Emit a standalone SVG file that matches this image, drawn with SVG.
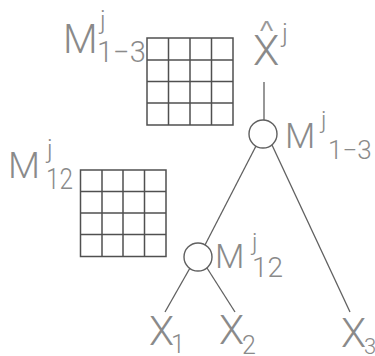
<svg xmlns="http://www.w3.org/2000/svg" width="375" height="356" viewBox="0 0 375 356">
<style>
.t{font-family:Roboto,"Liberation Sans",sans-serif;font-weight:300;fill:#8a8a8a}
.h{font-family:"Liberation Sans",sans-serif;fill:#9a9a9a}
.g{fill:none;stroke:#505050;stroke-width:1.5}
.c{fill:none;stroke:#606060;stroke-width:1.4}
.e{fill:none;stroke:#606060;stroke-width:1.3}
</style>
<rect width="375" height="356" fill="#ffffff"/>
<g id="matrix13">
<path class="g" d="M147,38H233V125H147Z M168.5,38V125 M190,38V125 M211.5,38V125 M147,60H233 M147,81.5H233 M147,103H233"/>
<text class="t" x="63" y="53" font-size="40">M</text>
<text class="t" x="100" y="29" font-size="25">j</text>
<text class="t" x="97" y="62" font-size="29">1−3</text>
</g>
<g id="matrix12">
<path class="g" d="M80.5,170H166V256.5H80.5Z M102,170V256.5 M123,170V256.5 M144.5,170V256.5 M80.5,191.5H166 M80.5,213H166 M80.5,234.5H166"/>
<text class="t" x="8" y="178" font-size="37">M</text>
<text class="t" x="47" y="158" font-size="25">j</text>
<text class="t" x="46" y="189" font-size="29" textLength="27" lengthAdjust="spacingAndGlyphs">12</text>
</g>
<g id="xhat">
<text class="t" x="253" y="65" font-size="43">X</text>
<text class="h" x="260" y="40" font-size="28">^</text>
<text class="t" x="282" y="42" font-size="26">j</text>
</g>
<g id="node13">
<circle class="c" cx="263" cy="134" r="14"/>
<text class="t" x="285" y="148" font-size="35">M</text>
<text class="t" x="321" y="128" font-size="24">j</text>
<text class="t" x="328" y="159" font-size="26">1−3</text>
</g>
<g id="node12">
<circle class="c" cx="198" cy="257" r="14"/>
<text class="t" x="215" y="268" font-size="34">M</text>
<text class="t" x="252" y="250" font-size="24">j</text>
<text class="t" x="252" y="277" font-size="28">12</text>
</g>
<g id="x1">
<text class="t" x="149" y="345" font-size="41">X</text>
<text class="t" x="171" y="353" font-size="25">1</text>
</g>
<g id="x2">
<text class="t" x="219" y="344" font-size="41">X</text>
<text class="t" x="242" y="354" font-size="25">2</text>
</g>
<g id="x3">
<text class="t" x="341" y="347" font-size="41">X</text>
<text class="t" x="364" y="354" font-size="22">3</text>
</g>
<g id="connectors">
<line class="e" x1="264" y1="82" x2="264" y2="120"/>
<line class="e" x1="256" y1="146" x2="205" y2="245"/>
<line class="e" x1="272" y1="145" x2="350" y2="312"/>
<line class="e" x1="190" y1="268" x2="165" y2="312"/>
<line class="e" x1="207" y1="268" x2="235" y2="312"/>
</g>
</svg>
